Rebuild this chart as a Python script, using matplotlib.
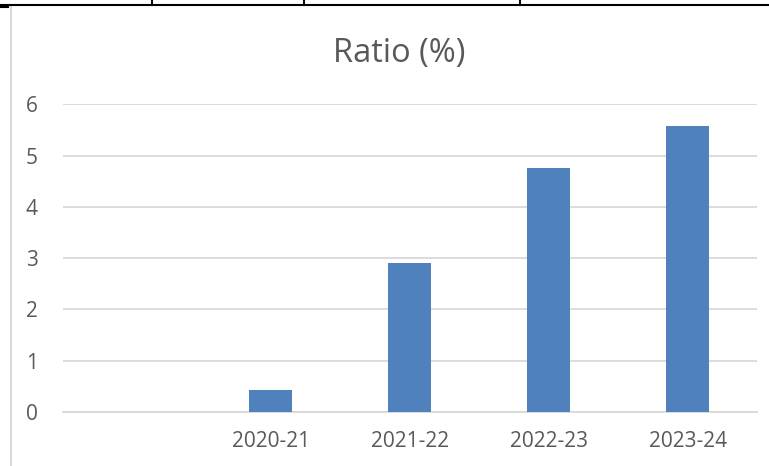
import matplotlib.pyplot as plt
from matplotlib.lines import Line2D

# data
years = ['', '2020-21', '2021-22', '2022-23', '2023-24']
ratio = [0, 0.43, 2.91, 4.76, 5.57]
y_ticks = [0, 1, 2, 3, 4, 5, 6]

plt.rcParams['font.family'] = ['Open Sans', 'DejaVu Sans']
text_color = '#595959'
grid_color = '#d9d9d9'

fig = plt.figure(figsize=(7.69, 4.66), dpi=100)
ax = fig.add_axes([0.0815, 0.1159, 0.9029, 0.66])

x = range(len(years))
ax.bar(x, ratio, width=0.31, color='#4f81bd', zorder=3)

ax.set_xlim(-0.5, len(years) - 0.5)
ax.set_ylim(0, 6)
ax.set_yticks(y_ticks)
ax.set_xticks(list(x))
ax.set_xticklabels(years)
ax.yaxis.grid(True, color=grid_color, linewidth=1.3, zorder=0)
ax.tick_params(axis='both', length=0, labelsize=15, colors=text_color)
ax.tick_params(axis='x', pad=14)
ax.tick_params(axis='y', pad=18)
for side in ['top', 'right', 'left']:
    ax.spines[side].set_visible(False)
ax.spines['bottom'].set_color(grid_color)
ax.spines['bottom'].set_linewidth(1.3)

fig.text(0.519, 0.885, 'Ratio (%)', ha='center', va='center', fontsize=23.5, color=text_color)

# chart frame edge and table borders from the document
W, H = 769, 466
fig.add_artist(Line2D([11 / W, 11 / W], [0, 1 - 6 / H], color=grid_color, linewidth=1.5))
fig.add_artist(Line2D([0, 1], [1 - 5 / H, 1 - 5 / H], color='black', linewidth=1.5))
fig.add_artist(Line2D([0, 8 / W], [1 - 6.5 / H, 1 - 6.5 / H], color='black', linewidth=1.5))
for xv in [152, 304, 520]:
    fig.add_artist(Line2D([xv / W, xv / W], [1 - 5 / H, 1], color='black', linewidth=1.5))

fig.savefig('out.png', dpi=100)
